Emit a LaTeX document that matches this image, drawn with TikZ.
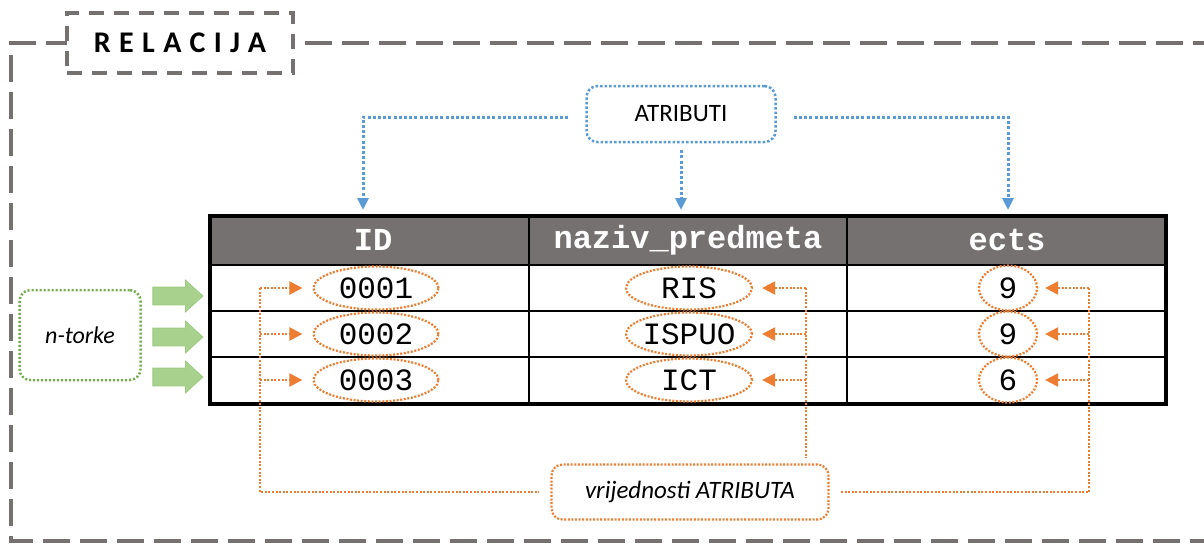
\documentclass[tikz,border=0pt]{standalone}
\usepackage{fontspec}
\setmainfont{Carlito}
\newfontfamily\cellfont{Liberation Mono}
\usetikzlibrary{shapes.geometric,shapes.arrows,arrows.meta}
\definecolor{frameg}{HTML}{767171}
\definecolor{hdrg}{HTML}{767171}
\definecolor{oblue}{HTML}{5B9BD5}
\definecolor{oorange}{HTML}{ED7D31}
\definecolor{ogreen}{HTML}{70AD47}
\definecolor{lgreen}{HTML}{A9D18E}
\definecolor{dgreen}{HTML}{9CCB7E}
\begin{document}
\begin{tikzpicture}[x=1pt,y=-1pt,
  framestyle/.style={draw=frameg,line width=3.5pt,dash pattern=on 27pt off 10pt},
  relbox/.style={draw=frameg,line width=3.5pt,dash pattern=on 15pt off 10pt,fill=white,
    minimum width=226pt,minimum height=60pt,inner sep=0pt,
    font=\fontsize{30}{34}\selectfont\bfseries\addfontfeatures{LetterSpace=28}},
  hdr/.style={text=white,inner sep=0pt,font=\cellfont\fontsize{32}{32}\selectfont\bfseries},
  cellbox/.style={ellipse,draw=oorange,line width=2.2pt,dash pattern=on 2pt off 1.6pt,
    inner sep=0pt,font=\cellfont\fontsize{31}{31}\selectfont},
  odot/.style={draw=oorange,line width=2.2pt,dash pattern=on 2pt off 1.6pt},
  oarr/.style={odot,-{Triangle[length=13pt,width=13pt]}},
  bdot/.style={draw=oblue,line width=3pt,dash pattern=on 3pt off 2.2pt},
  barr/.style={bdot,-{Triangle[length=12pt,width=11pt]}},
  labbox/.style={rounded corners=11pt,inner sep=0pt,fill=white,font=\fontsize{25}{30}\selectfont},
  garrow/.style={single arrow,fill=lgreen,draw=dgreen,line width=0.8pt,
    inner xsep=0pt,inner ysep=8.5pt,
    minimum height=50pt,single arrow head extend=7pt,
    single arrow tip angle=85}
]
\useasboundingbox (0,0) rectangle (1204,544);
% outer frame
\draw[framestyle] (1220,43) -- (11,43) -- (11,541) -- (1220,541);
\node[relbox] (rel) at (180,43) {RELACIJA};

% table
\fill[hdrg] (210,216) rectangle (1166,265);
\draw[line width=2pt] (210,265) -- (1166,265);
\draw[line width=2pt] (210,311) -- (1166,311);
\draw[line width=2pt] (210,357) -- (1166,357);
\draw[line width=2pt] (529,216) -- (529,404);
\draw[line width=2pt] (847,216) -- (847,404);
\draw[line width=3.5pt] (210,216) rectangle (1166,404);

\node[hdr] (hID) at (373,240) {ID};
\node[hdr] (hNaziv) at (688,240) {naziv\_predmeta};
\node[hdr] (hEcts) at (1007,240) {ects};

\node[cellbox,minimum width=125pt,minimum height=43pt] (id1) at (376,288) {\makebox[0pt]{0001}};
\node[cellbox,minimum width=125pt,minimum height=43pt] (id2) at (376,334) {\makebox[0pt]{0002}};
\node[cellbox,minimum width=125pt,minimum height=43pt] (id3) at (376,380) {\makebox[0pt]{0003}};
\node[cellbox,minimum width=126pt,minimum height=43pt] (nz1) at (689,288) {\makebox[0pt]{RIS}};
\node[cellbox,minimum width=126pt,minimum height=43pt] (nz2) at (689,334) {\makebox[0pt]{ISPUO}};
\node[cellbox,minimum width=126pt,minimum height=43pt] (nz3) at (689,380) {\makebox[0pt]{ICT}};
\node[cellbox,minimum width=58pt,minimum height=45pt] (ec1) at (1008,288) {\makebox[0pt]{9}};
\node[cellbox,minimum width=58pt,minimum height=45pt] (ec2) at (1008,334) {\makebox[0pt]{9}};
\node[cellbox,minimum width=58pt,minimum height=45pt] (ec3) at (1008,380) {\makebox[0pt]{6}};

% ATRIBUTI
\node[labbox,draw=oblue,line width=2.5pt,dash pattern=on 2.5pt off 2pt,
  minimum width=189pt,minimum height=56pt] (atr) at (681,114) {ATRIBUTI};
\coordinate (ta1) at (363,210);
\coordinate (ta2) at (681,210);
\coordinate (ta3) at (1008,210);
\draw[barr] ([xshift=-17pt,yshift=-3pt]atr.west) -| (ta1);
\draw[barr] ([yshift=-7pt]atr.south) -- (ta2);
\draw[barr] ([xshift=17pt,yshift=-3pt]atr.east) -| (ta3);

% n-torke
\node[labbox,draw=ogreen,line width=2.5pt,dash pattern=on 2pt off 2pt,
  minimum width=121pt,minimum height=90pt,font=\fontsize{24}{30}\selectfont\itshape] (nt) at (80,335) {n-torke};
\node[garrow] (ga1) at (173,296) {};
\node[garrow] (ga2) at (173,337) {};
\node[garrow] (ga3) at (173,377) {};

% vrijednosti ATRIBUTA
\node[labbox,draw=oorange,line width=2.2pt,dash pattern=on 2pt off 1.6pt,
  minimum width=277pt,minimum height=55pt,font=\fontsize{25}{30}\selectfont\itshape] (vb) at (690,492) {vrijednosti ATRIBUTA};

\coordinate (L1) at (260,288);
\coordinate (L2) at (260,334);
\coordinate (L3) at (260,380);
\coordinate (M1) at (806,288);
\coordinate (M2) at (806,334);
\coordinate (M3) at (806,380);
\coordinate (Mb) at (806,458);
\coordinate (R1) at (1089,288);
\coordinate (R2) at (1089,334);
\coordinate (R3) at (1089,380);

\draw[odot] (L1) |- ([xshift=-11pt]vb.west);
\draw[oarr] (L1) -- ([xshift=-10pt]id1.west);
\draw[oarr] (L2) -- ([xshift=-10pt]id2.west);
\draw[oarr] (L3) -- ([xshift=-10pt]id3.west);

\draw[odot] (M1) -- (Mb);
\draw[oarr] (M1) -- ([xshift=9pt]nz1.east);
\draw[oarr] (M2) -- ([xshift=9pt]nz2.east);
\draw[oarr] (M3) -- ([xshift=9pt]nz3.east);

\draw[odot] (R1) |- ([xshift=10pt]vb.east);
\draw[oarr] (R1) -- ([xshift=7pt]ec1.east);
\draw[oarr] (R2) -- ([xshift=7pt]ec2.east);
\draw[oarr] (R3) -- ([xshift=7pt]ec3.east);
\end{tikzpicture}
\end{document}
